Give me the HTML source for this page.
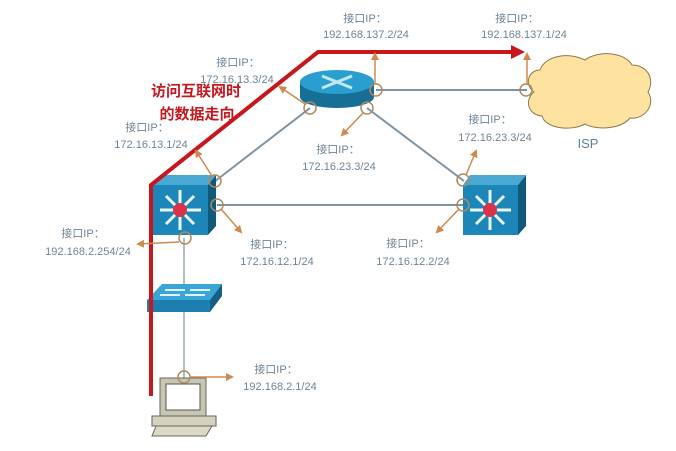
<!DOCTYPE html>
<html><head><meta charset="utf-8"><style>
body{margin:0;background:#fff;}
svg text{font-family:"Liberation Sans","Noto Sans CJK SC",sans-serif;}
</style></head><body>
<svg width="676" height="446" viewBox="0 0 676 446" xmlns="http://www.w3.org/2000/svg">
<defs>
<marker id="oa" markerWidth="8" markerHeight="8" refX="6" refY="4" orient="auto" markerUnits="userSpaceOnUse"><path d="M0,0 L8,4 L0,8 Z" fill="#d08a50"/></marker>
<marker id="ra" markerWidth="14" markerHeight="14" refX="2" refY="7" orient="auto" markerUnits="userSpaceOnUse"><path d="M0,0 L14,7 L0,14 Z" fill="#c8161d"/></marker>
</defs>
<rect width="676" height="446" fill="#fff"/>
<!-- links -->
<g stroke="#7e93a3" stroke-width="2" fill="none">
<line x1="310" y1="108" x2="214" y2="182"/>
<line x1="367" y1="108" x2="464" y2="181"/>
<line x1="217" y1="205" x2="463" y2="205"/>
<line x1="376" y1="90" x2="527" y2="90"/>
</g>
<line x1="184" y1="238" x2="184" y2="378" stroke="#9aa" stroke-width="1.5"/>
<!-- cloud -->
<path d="M540,70 C545,55 570,52 585,60 C598,50 625,52 632,65 C648,65 655,80 648,92 C656,104 645,120 630,118 C620,130 595,130 585,124 C570,132 545,128 542,116 C528,115 524,100 534,92 C524,85 528,70 540,70 Z" fill="#fde2a0" stroke="#8a7a50" stroke-width="1"/>
<text x="588" y="148" font-size="13" fill="#5f8098" text-anchor="middle">ISP</text>
<!-- router -->
<path d="M300,82 L300,97 A37,11 0 0 0 374,97 L374,82 Z" fill="#176f95"/>
<ellipse cx="337" cy="82" rx="37" ry="12" fill="#2a9ed0"/>
<g stroke="#bfe8f6" stroke-width="3"><line x1="322" y1="76" x2="352" y2="88"/><line x1="352" y1="76" x2="322" y2="88"/></g>
<!-- L3 switch left -->
<polygon points="153,185 160,175 216,175 208,185" fill="#4aa8d4"/>
<polygon points="208,185 216,175 216,226 208,235" fill="#0f5a7a"/>
<rect x="153" y="185" width="55" height="50" fill="#1c86b8"/>
<g stroke="#e8f6fc" stroke-width="3"><line x1="160" y1="210" x2="201" y2="210"/><line x1="180" y1="190" x2="180" y2="230"/><line x1="166" y1="196" x2="194" y2="224"/><line x1="194" y1="196" x2="166" y2="224"/></g>
<circle cx="180" cy="210" r="7" fill="#d9334a"/>
<!-- L3 switch right -->
<polygon points="463,185 470,175 526,175 518,185" fill="#4aa8d4"/>
<polygon points="518,185 526,175 526,226 518,235" fill="#0f5a7a"/>
<rect x="463" y="185" width="55" height="50" fill="#1c86b8"/>
<g stroke="#e8f6fc" stroke-width="3"><line x1="470" y1="210" x2="511" y2="210"/><line x1="490" y1="190" x2="490" y2="230"/><line x1="476" y1="196" x2="504" y2="224"/><line x1="504" y1="196" x2="476" y2="224"/></g>
<circle cx="490" cy="210" r="7" fill="#d9334a"/>
<!-- access switch -->
<polygon points="147,300 162,284 222,284 210,300" fill="#3aa6d8"/>
<polygon points="147,300 210,300 210,312 147,312" fill="#1c7fb0"/>
<polygon points="210,300 222,284 222,296 210,312" fill="#135f85"/>
<g stroke="#dff3fb" stroke-width="2"><line x1="165" y1="290" x2="185" y2="290"/><line x1="190" y1="290" x2="210" y2="290"/><line x1="160" y1="295" x2="180" y2="295"/><line x1="185" y1="295" x2="205" y2="295"/></g>
<!-- PC -->
<rect x="160" y="378" width="46" height="38" fill="#c8c6b0" stroke="#666" stroke-width="1"/>
<rect x="166" y="384" width="34" height="26" fill="#fff" stroke="#555" stroke-width="1"/>
<rect x="152" y="416" width="64" height="10" fill="#d4d2bc" stroke="#666" stroke-width="1"/>
<polygon points="156,426 212,426 206,436 152,436" fill="#dcdac4" stroke="#666" stroke-width="1"/>
<!-- red path -->
<polyline points="151,396 151,185 318,52 513,52" fill="none" stroke="#c8161d" stroke-width="4" marker-end="url(#ra)"/>
<!-- interface circles -->
<g fill="none" stroke="#b08a60" stroke-width="1.5">
<circle cx="310" cy="108" r="6"/><circle cx="367" cy="108" r="6"/><circle cx="376" cy="90" r="6"/>
<circle cx="526" cy="90" r="6"/><circle cx="463" cy="180" r="6"/><circle cx="463" cy="205" r="6"/>
<circle cx="215" cy="181" r="6"/><circle cx="217" cy="205" r="6"/><circle cx="185" cy="238" r="6"/>
<circle cx="184" cy="377" r="6"/>
</g>
<!-- orange arrows -->
<g stroke="#d08a50" stroke-width="1.5" marker-end="url(#oa)">
<line x1="527" y1="84" x2="527" y2="54"/>
<line x1="375" y1="84" x2="375" y2="54"/>
<line x1="305" y1="104" x2="280" y2="87"/>
<line x1="212" y1="176" x2="196" y2="151"/>
<line x1="363" y1="113" x2="342" y2="135"/>
<line x1="466" y1="175" x2="476" y2="151"/>
<line x1="459" y1="209" x2="437" y2="232"/>
<line x1="221" y1="209" x2="241" y2="232"/>
<line x1="179" y1="242" x2="138" y2="244"/>
<line x1="190" y1="377" x2="232" y2="377"/>
</g>
<!-- labels -->
<g font-size="11" fill="#6f8595" text-anchor="middle">
<text x="365" y="22">接口IP：</text><text x="366" y="38">192.168.137.2/24</text>
<text x="517" y="22">接口IP：</text><text x="524" y="38">192.168.137.1/24</text>
<text x="238" y="66">接口IP：</text><text x="237" y="83">172.16.13.3/24</text>
<text x="147" y="131">接口IP：</text><text x="151" y="148">172.16.13.1/24</text>
<text x="338" y="153">接口IP：</text><text x="339" y="170">172.16.23.3/24</text>
<text x="490" y="123">接口IP：</text><text x="495" y="141">172.16.23.3/24</text>
<text x="83" y="237">接口IP：</text><text x="88" y="255">192.168.2.254/24</text>
<text x="272" y="248">接口IP：</text><text x="277" y="265">172.16.12.1/24</text>
<text x="408" y="247">接口IP：</text><text x="413" y="265">172.16.12.2/24</text>
<text x="276" y="373">接口IP：</text><text x="280" y="390">192.168.2.1/24</text>
</g>
<g font-size="15" font-weight="bold" fill="#c8161d" text-anchor="middle">
<text x="196" y="96">访问互联网时</text><text x="197" y="119">的数据走向</text>
</g>
</svg>
</body></html>
